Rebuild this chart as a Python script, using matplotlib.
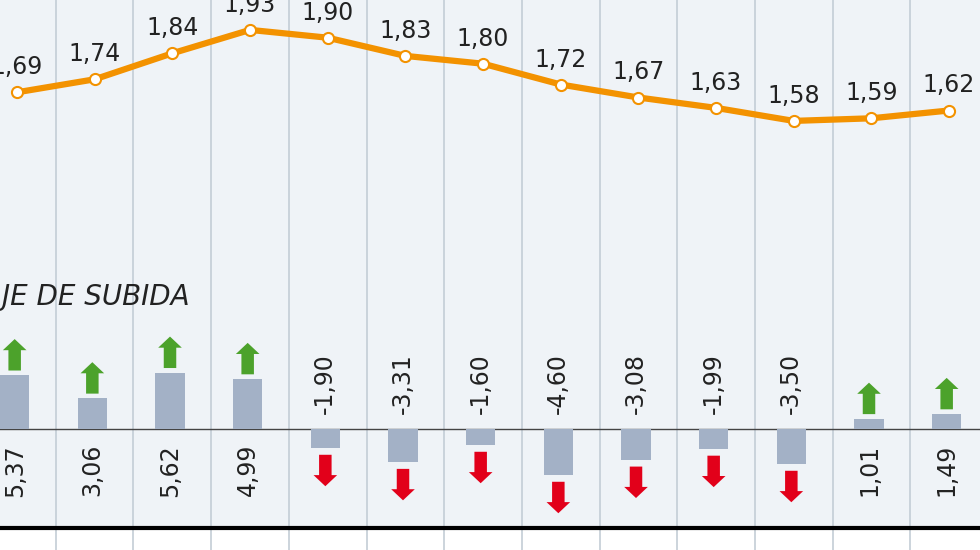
import matplotlib.pyplot as plt
import numpy as np

prices = [1.69, 1.74, 1.84, 1.93, 1.90, 1.83, 1.80, 1.72, 1.67, 1.63, 1.58, 1.59, 1.62]
changes = [5.37, 3.06, 5.62, 4.99, -1.90, -3.31, -1.60, -4.60, -3.08, -1.99, -3.50, 1.01, 1.49]


def fmt(v):
    return f"{v:.2f}".replace(".", ",")


W, H = 980, 550
fig = plt.figure(figsize=(W / 100, H / 100), dpi=100)
x = np.arange(len(prices))
xl = (-17 / 77.67, 12 + 31 / 77.67)

bg = "#eff3f7"
grid = "#c3cdd6"
orange = "#f39200"

# background panel + separators
base = fig.add_axes([0, 0, 1, 1])
base.set_xlim(xl)
base.set_ylim(550, 0)
base.axis("off")
base.axhspan(0, 527, color=bg, zorder=0)
for s in x[:-1] + 0.5:
    base.axvline(s, color=grid, lw=1.2, zorder=1)
base.axhline(528, color="black", lw=3, xmax=(12.5 - xl[0]) / (xl[1] - xl[0]), zorder=2)

# line chart
top = fig.add_axes([0, 1 - 300 / H, 1, 300 / H])
top.patch.set_alpha(0)
top.set_xlim(xl)
top.set_ylim(2.045 - 300 / 260, 2.045)
top.axis("off")
top.plot(x, prices, color=orange, lw=4.5, zorder=3, solid_capstyle="round")
top.plot(x, prices, "o", ms=8, mfc="white", mec=orange, mew=1.5, zorder=4)
for xi, p in zip(x, prices):
    top.text(xi, p + 0.05, fmt(p), ha="center", va="bottom", fontsize=17, color="#222222")

# bar chart
bot = fig.add_axes([0, 0, 1, 250 / H])
bot.patch.set_alpha(0)
bot.set_xlim(xl)
bot.set_ylim(-12.1, 12.9)
bot.axis("off")
bot.bar(x - 0.03, changes, width=0.38, color="#a3b1c6", zorder=3)
bot.axhline(0, color="#444444", lw=1, zorder=2)
arrow = "simple,head_length=0.8,head_width=1.7,tail_width=0.9"
for xi, c in zip(x, changes):
    xc = xi - 0.03
    if c > 0:
        bot.annotate("", xy=(xc, c + 3.9), xytext=(xc, c + 0.2),
                     arrowprops=dict(arrowstyle=arrow, color="#4ca22b", lw=0))
        bot.text(xc, -1.5, fmt(c), rotation=90, ha="center", va="top", fontsize=17, color="#222222")
    else:
        bot.annotate("", xy=(xc, c - 4.1), xytext=(xc, c - 0.4),
                     arrowprops=dict(arrowstyle=arrow, color="#e2001a", lw=0))
        bot.text(xc, 1.5, fmt(c), rotation=90, ha="center", va="bottom", fontsize=17, color="#222222")

base.text(-0.219 + 190 / 77.67, 297, "PORCENTAJE DE SUBIDA", ha="right", va="center",
          fontsize=20, style="italic", color="#222222", zorder=5)

fig.savefig("out.png", dpi=100)
